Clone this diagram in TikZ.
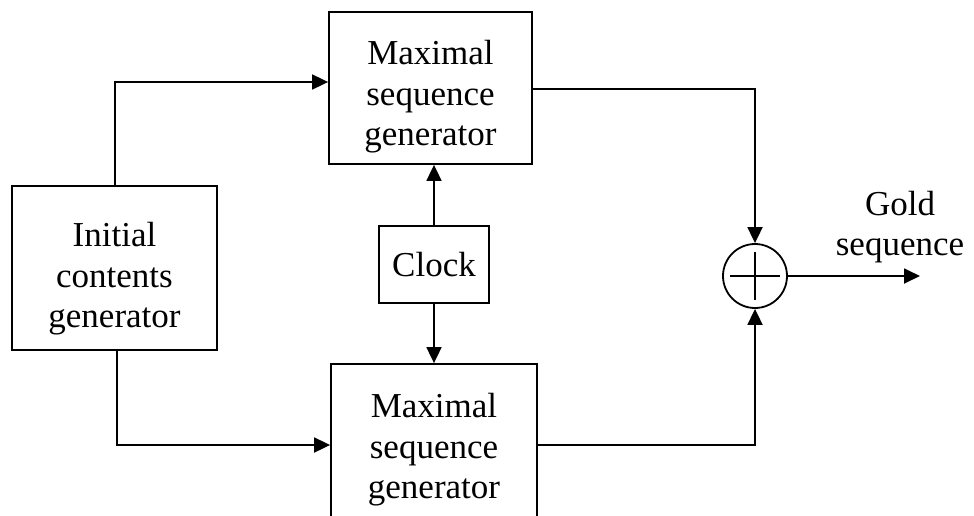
\documentclass[tikz,border=0pt]{standalone}
\usepackage{fontspec}
\setmainfont{Liberation Serif}
\usetikzlibrary{arrows.meta,calc}
\begin{document}
\begin{tikzpicture}[x=1pt,y=-1pt,
  blockbox/.style={draw,line width=1.8pt,inner sep=0pt,rectangle},
  lbl/.style={align=center,inner sep=0pt,font=\fontsize{35}{40.5}\selectfont},
  conn/.style={line width=1.8pt,-{Triangle[length=16pt,width=15pt]}},
  wire/.style={line width=1.8pt}]
\useasboundingbox (0,0) rectangle (974,515);
% boxes
\node[blockbox,minimum width=205pt,minimum height=164pt] (init) at (114.5,268) {};
\node[lbl] (inittxt) at (114.5,279) {Initial\\contents\\generator};
\node[blockbox,minimum width=203pt,minimum height=152pt] (top) at (430.5,88) {};
\node[lbl] (toptxt) at (430.5,97) {Maximal\\sequence\\generator};
\node[blockbox,minimum width=206pt,minimum height=170pt] (bot) at (434,449) {};
\node[lbl] (bottxt) at (434,450) {Maximal\\sequence\\generator};
\node[blockbox,minimum width=110pt,minimum height=77pt] (clock) at (434,264.5) {};
\node[lbl] (clocktxt) at (434,264.5) {Clock};
\node[draw,circle,line width=1.8pt,minimum size=64pt,inner sep=0pt] (sum) at (755,276) {};
\draw[wire] ($(sum.center)+(-25,0)$) -- ($(sum.center)+(25,0)$);
\draw[wire] ($(sum.center)+(0,-24)$) -- ($(sum.center)+(0,24)$);
\coordinate (outend) at (920,276);
\node[lbl] (gold) at (900,227) {Gold\\sequence};
% connectors
\draw[conn] (init.north -| 115,0) |- (top.west |- 0,82);
\draw[conn] (init.south -| 117,0) |- (bot.west |- 0,445);
\draw[conn] (clock.north) -- (clock.north |- top.south);
\draw[conn] (clock.south) -- (clock.south |- bot.north);
\draw[conn] (top.east |- 0,89) -| (sum.north);
\draw[conn] (bot.east |- 0,445) -| (sum.south);
\draw[conn] (sum.east) -- (outend);
\end{tikzpicture}
\end{document}
